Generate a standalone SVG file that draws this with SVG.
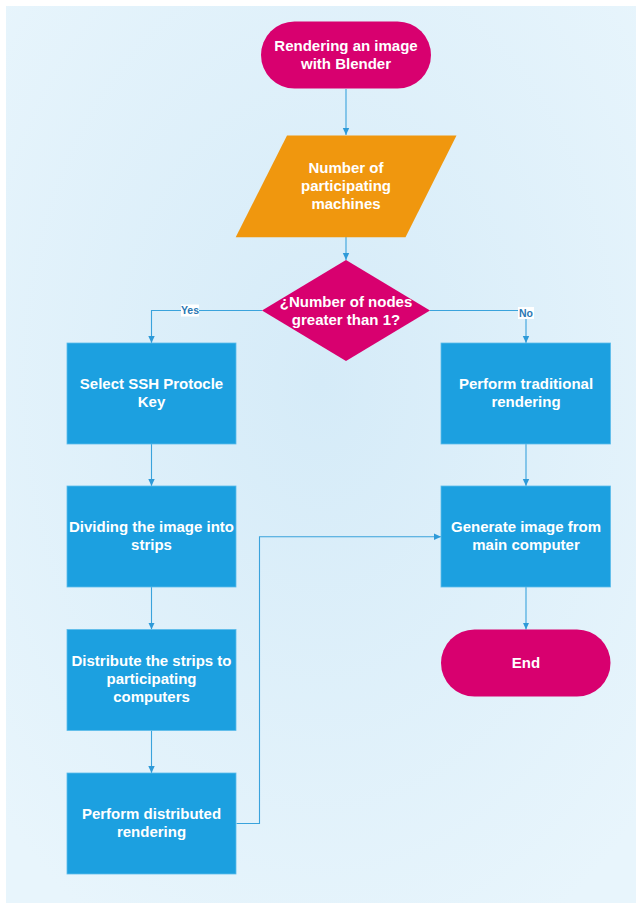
<svg xmlns="http://www.w3.org/2000/svg" width="636" height="903" viewBox="0 0 636 903">
<defs>
<radialGradient id="bg" cx="50%" cy="42%" r="70%">
<stop offset="0" stop-color="#d5ebf8"/>
<stop offset="1" stop-color="#e8f5fc"/>
</radialGradient>
<marker id="arr" markerUnits="userSpaceOnUse" markerWidth="8" markerHeight="8" refX="7" refY="4" orient="auto">
<path d="M0,0.8 L7,4 L0,7.2 z" fill="#2e9ad8"/>
</marker>
<style>
.term{fill:#d8006f}
.io{fill:#f0970e}
.dec{fill:#d8006f}
.proc{fill:#1ca0e0;stroke:#5cbcea;stroke-width:0.8}
.t{font-family:"Liberation Sans",Arial,sans-serif;font-weight:bold;font-size:15px;fill:#ffffff;text-anchor:middle}
.c{fill:none;stroke:#3aa3dc;stroke-width:1.1}
.lblbg{fill:#ffffff}
.lbl{font-family:"Liberation Sans",Arial,sans-serif;font-weight:bold;font-size:10.5px;fill:#2a78b4;text-anchor:middle}
</style>
</defs>
<rect x="6" y="6" width="630" height="897" fill="url(#bg)"/>

<g id="connectors">
<path class="c" d="M346,89 V135" marker-end="url(#arr)"/>
<path class="c" d="M346,237 V260" marker-end="url(#arr)"/>
<path class="c" d="M262,310.5 H151.5 V343" marker-end="url(#arr)"/>
<path class="c" d="M430,310.5 H526 V343" marker-end="url(#arr)"/>
<path class="c" d="M151.5,444 V486" marker-end="url(#arr)"/>
<path class="c" d="M151.5,587 V629.5" marker-end="url(#arr)"/>
<path class="c" d="M151.5,730.5 V773" marker-end="url(#arr)"/>
<path class="c" d="M526,444 V486" marker-end="url(#arr)"/>
<path class="c" d="M526,587 V629.5" marker-end="url(#arr)"/>
<path class="c" d="M236.5,823.5 H259.5 V536.7 H441" marker-end="url(#arr)"/>
<rect class="lblbg" x="181" y="304.5" width="18" height="12"/>
<text class="lbl" x="190" y="314.3">Yes</text>
<rect class="lblbg" x="518" y="307" width="16" height="12"/>
<text class="lbl" x="526" y="316.8">No</text>
</g>

<g id="start">
<rect class="term" x="261" y="21.5" width="170" height="67" rx="33.5" ry="33.5"/>
<text class="t" x="346" y="51">Rendering an image</text>
<text class="t" x="346" y="69">with Blender</text>
</g>

<g id="input">
<polygon class="io" points="287,135.5 456.5,135.5 405.5,237.3 235.7,237.3"/>
<text class="t" x="346" y="172.5">Number of</text>
<text class="t" x="346" y="190.5">participating</text>
<text class="t" x="346" y="208.5">machines</text>
</g>

<g id="decision">
<polygon class="dec" points="346,260 430,310.5 346,361 262,310.5"/>
<text class="t" x="346" y="306.5">¿Number of nodes</text>
<text class="t" x="346" y="324.5">greater than 1?</text>
</g>

<g id="ssh">
<rect class="proc" x="67" y="343" width="169" height="101"/>
<text class="t" x="151.5" y="389">Select SSH Protocle</text>
<text class="t" x="151.5" y="407">Key</text>
</g>

<g id="divide">
<rect class="proc" x="67" y="486" width="169" height="101"/>
<text class="t" x="151.5" y="532">Dividing the image into</text>
<text class="t" x="151.5" y="550">strips</text>
</g>

<g id="distribute">
<rect class="proc" x="67" y="629.5" width="169" height="101"/>
<text class="t" x="151.5" y="666">Distribute the strips to</text>
<text class="t" x="151.5" y="684">participating</text>
<text class="t" x="151.5" y="702">computers</text>
</g>

<g id="distributed">
<rect class="proc" x="67" y="773" width="169" height="101"/>
<text class="t" x="151.5" y="819">Perform distributed</text>
<text class="t" x="151.5" y="837">rendering</text>
</g>

<g id="traditional">
<rect class="proc" x="441" y="343" width="169.5" height="101"/>
<text class="t" x="526" y="389">Perform traditional</text>
<text class="t" x="526" y="407">rendering</text>
</g>

<g id="generate">
<rect class="proc" x="441" y="486" width="169.5" height="101"/>
<text class="t" x="526" y="532">Generate image from</text>
<text class="t" x="526" y="550">main computer</text>
</g>

<g id="end">
<rect class="term" x="441" y="629.5" width="169.5" height="67" rx="33.5" ry="33.5"/>
<text class="t" x="526" y="668">End</text>
</g>
</svg>
